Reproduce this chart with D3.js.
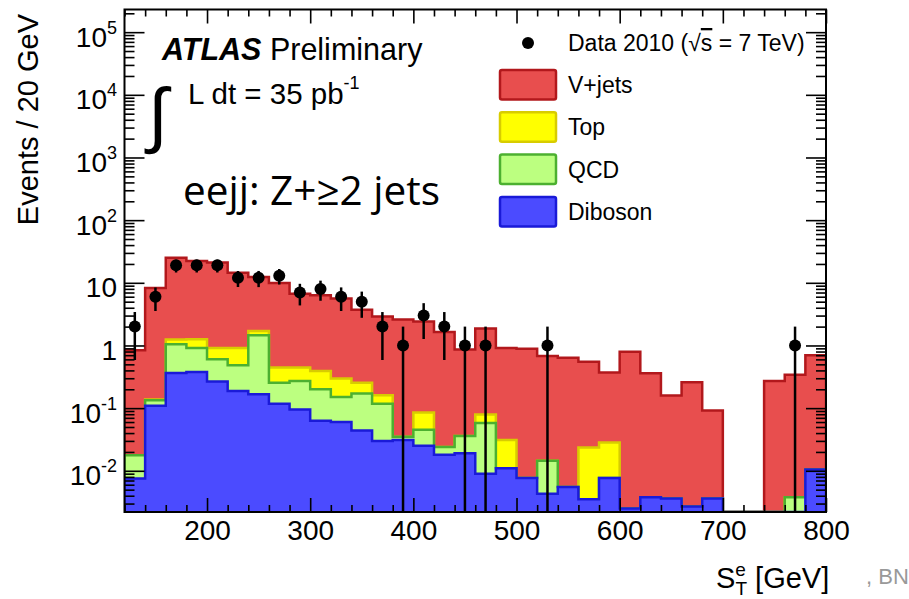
<!DOCTYPE html>
<html>
<head>
<meta charset="utf-8">
<script src="https://cdn.jsdelivr.net/npm/d3@7/dist/d3.min.js"></script>
<style>
  body { margin: 0; background: #fff; }
  svg text { font-family: "Liberation Sans", Arial, sans-serif; fill: #000; }
</style>
</head>
<body>
<svg id="chart" width="909" height="599"></svg>
<script>
// 20 GeV bins of S_T^e
const binEdges = [120, 140, 160, 180, 200, 220, 240, 260, 280, 300, 320, 340, 360, 380, 400,
  420, 440, 460, 480, 500, 520, 540, 560, 580, 600, 620, 640, 660, 680, 700, 720, 740, 760, 780, 800]

// per-bin MC contributions
const dibosonEvents = [0.0075, 0.109, 0.365, 0.378, 0.265, 0.188, 0.167, 0.118, 0.095, 0.063, 0.06, 0.044,
  0.030, 0.031, 0.025, 0.018, 0.019, 0.009, 0.011, 0.0077, 0.0043, 0.0055, 0.0035, 0.0077, 0.0025,
  0.0038, 0.0036, 0.0027, 0.0036, 0, 0, 0, 0, 0.0105]
const qcdEvents = [0.0102, 0.025, 0.68, 0.535, 0.337, 0.295, 1.283, 0.135, 0.177, 0.137, 0.091, 0.127,
  0.088, 0.004, 0.020, 0.006, 0.017, 0.049, 0, 0, 0.0101, 0, 0, 0, 0,
  0, 0, 0, 0, 0, 0, 0, 0.0038, 0]
const topEvents = [0, 0.003, 0.195, 0.343, 0.311, 0.43, 0.25, 0.191, 0.172, 0.193, 0.145, 0.082,
  0.043, 0, 0.040, 0, 0, 0.021, 0.020, 0, 0, 0, 0.020, 0.0205, 0,
  0, 0, 0, 0, 0, 0, 0, 0, 0]
const vjetsEvents = [0.822, 8.16, 23.96, 20.94, 20.09, 13.59, 10.7, 9.46, 6.26, 5.91, 5.30, 3.45,
  2.74, 2.57, 2.32, 1.62, 0.83, 1.78, 0.88, 0.88, 0.666, 0.634, 0.527, 0.342, 0.788,
  0.356, 0.156, 0.257, 0.088, 0, 0, 0.27, 0.336, 0.69]

// observed events, null where nothing was drawn
const dataEvents = [2, 6, 19, 19, 19, 12, 12, 13, 7, 8, 6, 5, 2, 1, 3, 2, 1, 1, null, null,
  1, null, null, null, null, null, null, null, null, null, null, null, 1, null]

const xTickValues = [200, 300, 400, 500, 600, 700, 800]
const yTickValues = [1e-2, 1e-1, 1, 10, 1e2, 1e3, 1e4, 1e5]

const samples = [
  { key: 'diboson', label: 'Diboson', fill: '#4b4bff', stroke: '#1a1ad8' },
  { key: 'qcd', label: 'QCD', fill: '#bcff80', stroke: '#4cb030' },
  { key: 'top', label: 'Top', fill: '#ffff00', stroke: '#d8cc00' },
  { key: 'vjets', label: 'V+jets', fill: '#e84e4e', stroke: '#b2181c' },
]

const frame = { left: 124.5, right: 826, top: 9.5, bottom: 512 }

const x = d3.scaleLinear().domain([120, 800]).range([frame.left, frame.right])
const y = d3.scaleLog().domain([0.0022, 2.3e5]).range([frame.bottom, frame.top]).clamp(true)
const yFloor = 1e-4

const svg = d3.select('#chart')

svg.append('clipPath').attr('id', 'plot-clip')
  .append('rect')
  .attr('x', frame.left).attr('y', frame.top)
  .attr('width', frame.right - frame.left).attr('height', frame.bottom - frame.top)

const rows = binEdges.slice(0, -1).map((lo, i) => ({
  lo,
  diboson: dibosonEvents[i],
  qcd: qcdEvents[i],
  top: topEvents[i],
  vjets: vjetsEvents[i],
}))

const stacked = d3.stack().keys(samples.map(s => s.key))(rows)

const stepLine = d3.line().curve(d3.curveStepAfter)

const plot = svg.append('g').attr('clip-path', 'url(#plot-clip)')

// ROOT draws each cumulative histogram from the floor, biggest first
stacked.slice().reverse().forEach(layer => {
  const sample = samples.find(s => s.key === layer.key)
  const pts = [[x(binEdges[0]), y.range()[0]]]
  layer.forEach((d, i) => pts.push([x(rows[i].lo), y(Math.max(d[1], yFloor))]))
  const last = layer[layer.length - 1][1]
  pts.push([x(binEdges[binEdges.length - 1]), y(Math.max(last, yFloor))])
  pts.push([x(binEdges[binEdges.length - 1]), y.range()[0]])
  plot.append('path')
    .attr('d', stepLine(pts))
    .attr('fill', sample.fill)
    .attr('stroke', sample.stroke)
    .attr('stroke-width', 2.5)
    .attr('stroke-linejoin', 'miter')
})

// data points with sqrt(N) errors
const points = rows
  .map((r, i) => ({ center: r.lo + 10, n: dataEvents[i] }))
  .filter(d => d.n !== null)

plot.selectAll('line.err')
  .data(points)
  .enter()
  .append('line')
  .attr('class', 'err')
  .attr('x1', d => x(d.center)).attr('x2', d => x(d.center))
  .attr('y1', d => y(d.n + Math.sqrt(d.n)))
  .attr('y2', d => y(Math.max(d.n - Math.sqrt(d.n), yFloor)))
  .attr('stroke', '#000')
  .attr('stroke-width', 2.5)

plot.selectAll('circle.pt')
  .data(points)
  .enter()
  .append('circle')
  .attr('class', 'pt')
  .attr('cx', d => x(d.center))
  .attr('cy', d => y(d.n))
  .attr('r', 6)
  .attr('fill', '#000')

// axes: ROOT style, ticks on all four sides pointing inwards
const xMinor = binEdges.filter(v => xTickValues.indexOf(v) < 0)
const yMinor = []
for (let e = -3; e <= 5; e++) {
  for (let k = 2; k <= 9; k++) {
    const v = k * Math.pow(10, e)
    if (v > y.domain()[0] && v < y.domain()[1]) yMinor.push(v)
  }
}

const tickStyle = g => {
  g.select('.domain').remove()
  g.selectAll('.tick line').attr('stroke', '#000').attr('stroke-width', 1.6)
}

svg.append('g').attr('transform', `translate(0,${ frame.bottom })`)
  .call(d3.axisBottom(x).tickValues(xMinor).tickSize(-7).tickFormat(''))
  .call(tickStyle)
svg.append('g').attr('transform', `translate(0,${ frame.top })`)
  .call(d3.axisTop(x).tickValues(xMinor).tickSize(-7).tickFormat(''))
  .call(tickStyle)
svg.append('g').attr('transform', `translate(0,${ frame.top })`)
  .call(d3.axisTop(x).tickValues(xTickValues).tickSize(-14).tickFormat(''))
  .call(tickStyle)

const xAxis = svg.append('g').attr('transform', `translate(0,${ frame.bottom })`)
  .call(d3.axisBottom(x).tickValues(xTickValues).tickSize(-14).tickPadding(8))
  .call(tickStyle)
xAxis.selectAll('.tick text')
  .attr('font-size', 28)
  .attr('font-family', '"Liberation Sans", Arial, sans-serif')
  .attr('fill', '#000')

svg.append('g').attr('transform', `translate(${ frame.left },0)`)
  .call(d3.axisLeft(y).tickValues(yMinor).tickSize(-10).tickFormat(''))
  .call(tickStyle)
svg.append('g').attr('transform', `translate(${ frame.right },0)`)
  .call(d3.axisRight(y).tickValues(yMinor).tickSize(-10).tickFormat(''))
  .call(tickStyle)
svg.append('g').attr('transform', `translate(${ frame.right },0)`)
  .call(d3.axisRight(y).tickValues(yTickValues).tickSize(-20).tickFormat(''))
  .call(tickStyle)

const yAxis = svg.append('g').attr('transform', `translate(${ frame.left },0)`)
  .call(d3.axisLeft(y).tickValues(yTickValues).tickSize(-20).tickPadding(8).tickFormat(''))
  .call(tickStyle)

yAxis.selectAll('.tick').each(function(v) {
  const exp = Math.round(Math.log10(v))
  const t = d3.select(this).append('text')
    .attr('x', 117 - frame.left)
    .attr('y', 14)
    .attr('text-anchor', 'end')
    .attr('font-size', 28)
  if (exp === 0) {
    t.text('1')
  } else if (exp === 1) {
    t.text('10')
  } else {
    t.append('tspan').text('10')
    t.append('tspan').attr('font-size', 18).attr('dy', -13).text(exp)
  }
})

svg.append('rect')
  .attr('x', frame.left).attr('y', frame.top)
  .attr('width', frame.right - frame.left).attr('height', frame.bottom - frame.top)
  .attr('fill', 'none').attr('stroke', '#000').attr('stroke-width', 2)

// axis titles
svg.append('text')
  .attr('transform', 'rotate(-90)')
  .attr('x', -14).attr('y', 38)
  .attr('text-anchor', 'end')
  .attr('font-size', 29)
  .text('Events / 20 GeV')

const xTitle = svg.append('text')
  .attr('x', 716).attr('y', 588)
  .attr('font-size', 29)
xTitle.append('tspan').text('S')
xTitle.append('tspan').attr('font-size', 19).attr('dy', -12).text('e')
xTitle.append('tspan').attr('font-size', 19).attr('dx', -10.5).attr('dy', 19).text('T')
xTitle.append('tspan').attr('dy', -7).text(' [GeV]')

svg.append('text')
  .attr('x', 866).attr('y', 584)
  .attr('font-size', 22)
  .style('fill', '#999')
  .text(', BN')

// labels inside the frame
const atlas = svg.append('text').attr('x', 162).attr('y', 60).attr('font-size', 30.5)
atlas.append('tspan').attr('font-weight', 'bold').attr('font-style', 'italic').text('ATLAS')
atlas.append('tspan').text(' Preliminary')

svg.append('text')
  .attr('x', 148).attr('y', 139)
  .attr('font-size', 72)
  .attr('font-family', '"DejaVu Serif", serif')
  .text('\u222B')

const lumi = svg.append('text').attr('x', 188).attr('y', 104).attr('font-size', 29.5)
lumi.append('tspan').text('L dt = 35 pb')
lumi.append('tspan').attr('font-size', 18).attr('dy', -15).text('-1')

svg.append('text')
  .attr('x', 183).attr('y', 205)
  .attr('font-size', 40.5)
  .style('font-family', '"Open Sans", Lato, sans-serif')
  .text('eejj: Z+\u22652 jets')

// legend
const legendX = 500
const legend = svg.append('g')

legend.append('circle').attr('cx', 528).attr('cy', 43).attr('r', 6).attr('fill', '#000')
const dataLabel = legend.append('text').attr('x', 568).attr('y', 51).attr('font-size', 23)
dataLabel.append('tspan').text('Data 2010 (\u221A')
dataLabel.append('tspan').style('text-decoration', 'overline').text('s')
dataLabel.append('tspan').text(' = 7 TeV)')

const legendRows = samples.slice().reverse()
legendRows.forEach((s, i) => {
  const top = 70 + i * 42.3
  legend.append('rect')
    .attr('x', legendX).attr('y', top)
    .attr('width', 56).attr('height', 29.5)
    .attr('rx', 2)
    .attr('fill', s.fill)
    .attr('stroke', s.stroke)
    .attr('stroke-width', 2.5)
  legend.append('text')
    .attr('x', 568).attr('y', top + 23)
    .attr('font-size', 23)
    .text(s.label)
})
</script>
</body>
</html>
